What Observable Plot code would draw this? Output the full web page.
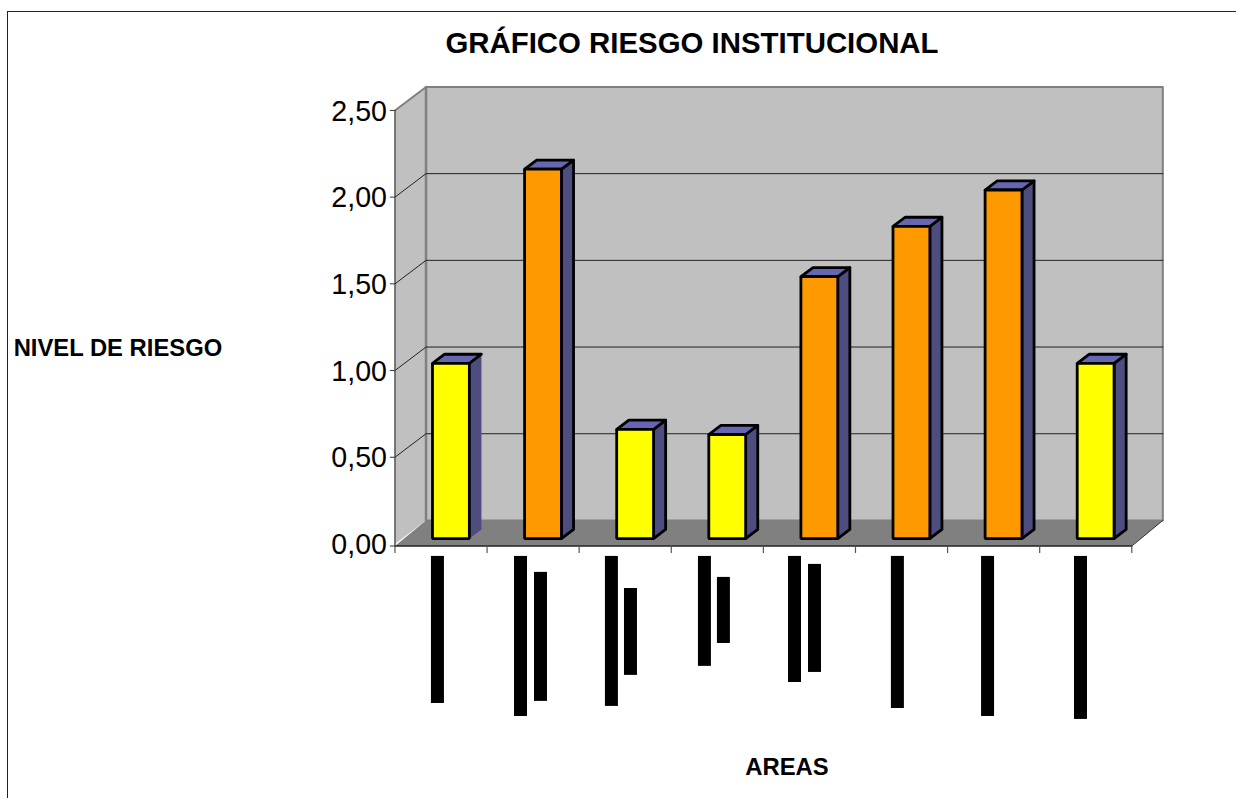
<!DOCTYPE html>
<html lang="es">
<head>
<meta charset="utf-8">
<script src="https://cdn.jsdelivr.net/npm/d3@7"></script>
<script src="https://cdn.jsdelivr.net/npm/@observablehq/plot@0.6"></script>
<style>
html,body{margin:0;padding:0;background:#fff;overflow:hidden}
#chart{position:relative;width:1236px;height:798px}
#chart svg{display:block;position:absolute;left:0;top:0;background:transparent}
#frame{position:absolute;left:7px;top:11px;right:-4px;bottom:-4px;border:1.5px solid #222}
</style>
</head>
<body>
<div id="chart"><div id="frame"></div></div>
<script>
// Values
const barValues = [1.01, 2.13, 0.63, 0.60, 1.51, 1.80, 2.01, 1.01];
const barColors = ["#ffff00", "#ff9900", "#ffff00", "#ffff00", "#ff9900", "#ff9900", "#ff9900", "#ffff00"];
const yTicks = [0, 0.5, 1, 1.5, 2, 2.5];
const xTicks = [0, 1, 2, 3, 4, 5, 6, 7, 8];
// Black blocks that hide the category labels (area index offset, value-axis extent)
const blockX = [0.396, 1.298, 1.515, 2.285, 2.492, 3.295, 3.501, 4.273, 4.490, 5.390, 6.369, 7.378];
const blockTop = [-0.072, -0.072, -0.164, -0.072, -0.257, -0.072, -0.193, -0.072, -0.118, -0.072, -0.072, -0.072];
const blockBottom = [-0.920, -0.995, -0.908, -0.937, -0.758, -0.706, -0.574, -0.799, -0.741, -0.949, -0.995, -1.012];
const blockWidth = 0.141;

// Oblique projection of the 3D chart into the x/y data space
const depthX = 0.337, depthY = 0.1355;
const pt = (c, v, d = 0) => ({x: c + d * depthX, y: v + d * depthY});
const nCat = barValues.length, yMax = 2.5, floorFront = -0.012;
const barOff = 0.33, barW = 0.40, d0 = 0.23, d1 = 0.62;

const poly = (pts, opts) => Plot.line(pts, {x: "x", y: "y", curve: "linear-closed", ...opts});

const wallStyle = {fill: "#c0c0c0", stroke: "#808080", strokeWidth: 2};
const marks = [
  // left wall, back wall, floor
  poly([pt(0, 0), pt(0, 0, 1), pt(0, yMax, 1), pt(0, yMax)], {fill: "#c0c0c0", stroke: "none"}),
  poly([pt(0, 0, 1), pt(nCat, 0, 1), pt(nCat, yMax, 1), pt(0, yMax, 1)], wallStyle),
  poly([pt(0, floorFront), pt(nCat, floorFront), pt(nCat, 0, 1), pt(0, 0, 1)], {fill: "#808080", stroke: "none"}),
  // wall edges
  Plot.line([pt(0, 0, 1), pt(0, yMax, 1)], {x: "x", y: "y", stroke: "#808080", strokeWidth: 2.5}),
  Plot.line([pt(0, yMax), pt(0, yMax, 1)], {x: "x", y: "y", stroke: "#808080", strokeWidth: 2}),
  Plot.line([pt(nCat, floorFront), pt(nCat, 0, 1)], {x: "x", y: "y", stroke: "#333", strokeWidth: 1}),
  Plot.line([pt(0, floorFront), pt(0, yMax)], {x: "x", y: "y", stroke: "#555", strokeWidth: 1.5}),
  Plot.line([pt(0, floorFront), pt(nCat, floorFront)], {x: "x", y: "y", stroke: "#222", strokeWidth: 1.5}),
  // gridlines
  ...yTicks.slice(1, -1).map(v => Plot.line([pt(0, v), pt(0, v, 1), pt(nCat, v, 1)], {x: "x", y: "y", stroke: "#222", strokeWidth: 1})),
  // ticks on the axes
  Plot.ruleY(yTicks.slice(1), {y: d => d, x1: -0.05, x2: 0, stroke: "#333", strokeWidth: 1}),
  Plot.ruleY([floorFront], {x1: -0.05, x2: 0, stroke: "#333", strokeWidth: 1}),
  Plot.ruleX(xTicks, {x: d => d, y1: floorFront, y2: -0.055, stroke: "#555", strokeWidth: 1.2}),
  // value labels
  Plot.text(yTicks, {x: 0, y: d => d, text: d => d3.format(".2f")(d).replace(".", ","), textAnchor: "end", dx: -8, dy: 1, fontSize: 28.6, fontFamily: "Liberation Sans", fill: "#000"}),
];

// 3D bars
barValues.forEach((v, i) => {
  const a = i + barOff, b = a + barW;
  const outline = i === 0 ? "none" : "#000";
  marks.push(
    poly([pt(b, 0, d0), pt(b, 0, d1), pt(b, v, d1), pt(b, v, d0)], {fill: "#4d4d80", stroke: outline, strokeWidth: 2.8, strokeLinejoin: "round"}),
    poly([pt(a, v, d0), pt(b, v, d0), pt(b, v, d1), pt(a, v, d1)], {fill: "#6666b3", stroke: "#000", strokeWidth: 2.8, strokeLinejoin: "round"}),
    poly([pt(a, 0, d0), pt(b, 0, d0), pt(b, v, d0), pt(a, v, d0)], {fill: barColors[i], stroke: "#000", strokeWidth: 2.8, strokeLinejoin: "miter"})
  );
});

// label-hiding blocks and titles
marks.push(
  Plot.rect(blockX.map((x, i) => i), {
    x1: i => blockX[i], x2: i => blockX[i] + blockWidth,
    y1: i => blockBottom[i], y2: i => blockTop[i], fill: "#000", inset: 0
  }),
  Plot.text(["GRÁFICO RIESGO INSTITUCIONAL"], {x: 3.225, y: 2.886, text: d => d, fontSize: 29.4, fontWeight: "bold", fontFamily: "Liberation Sans", fill: "#000"}),
  Plot.text(["NIVEL DE RIESGO"], {x: -3.008, y: 1.127, text: d => d, fontSize: 23.8, fontWeight: "bold", fontFamily: "Liberation Sans", fill: "#000"}),
  Plot.text(["AREAS"], {x: 4.256, y: -1.289, text: d => d, fontSize: 23.8, fontWeight: "bold", fontFamily: "Liberation Sans", fill: "#000"})
);

const chart = Plot.plot({
  width: 1236, height: 798,
  marginTop: 0, marginRight: 0, marginBottom: 0, marginLeft: 0,
  x: {domain: [-4.283, 9.137], axis: null},
  y: {domain: [-1.468, 3.134], axis: null},
  marks
});
document.getElementById("chart").appendChild(chart);
</script>
</body>
</html>
